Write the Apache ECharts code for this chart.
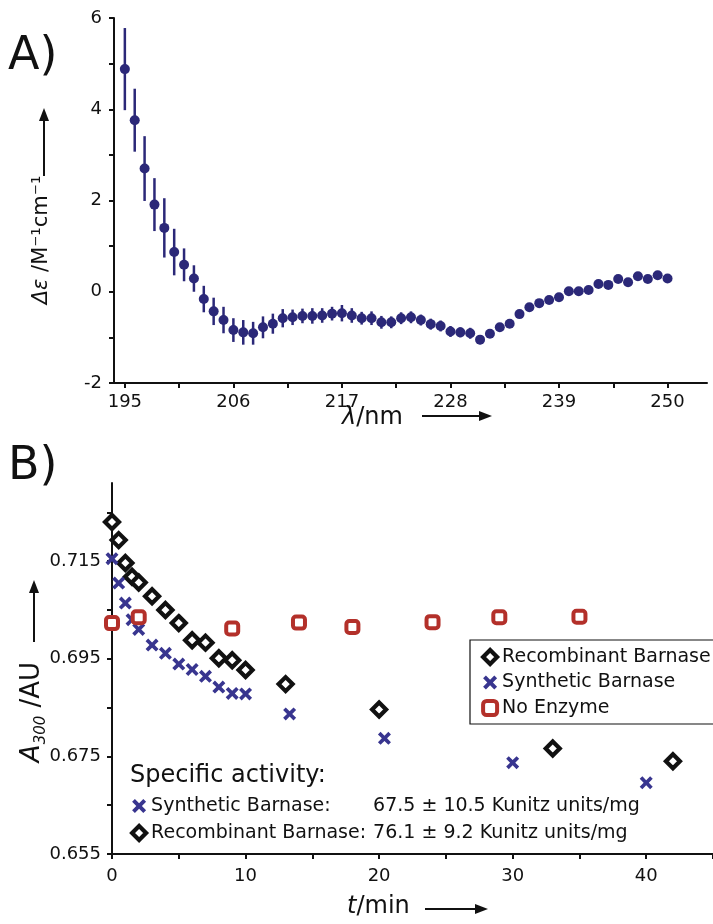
<!DOCTYPE html>
<html><head><meta charset="utf-8">
<script src="https://cdn.jsdelivr.net/npm/echarts@6/dist/echarts.min.js"></script>
<style>html,body{margin:0;padding:0;background:#fff}#c{width:713px;height:924px}</style>
</head><body><div id="c"></div>
<script>
// ---- Panel A data (CD spectrum) ----
const cdWavelength = [195,196,197,198,199,200,201,202,203,204,205,206,207,208,209,210,211,212,213,214,215,216,217,218,219,220,221,222,223,224,225,226,227,228,229,230,231,232,233,234,235,236,237,238,239,240,241,242,243,244,245,246,247,248,249,250];
const cdDeltaEps = [4.88,3.76,2.70,1.91,1.40,0.87,0.59,0.29,-0.16,-0.43,-0.62,-0.84,-0.89,-0.91,-0.78,-0.70,-0.58,-0.56,-0.53,-0.53,-0.52,-0.48,-0.47,-0.52,-0.58,-0.58,-0.67,-0.67,-0.58,-0.56,-0.62,-0.71,-0.75,-0.87,-0.89,-0.91,-1.05,-0.92,-0.78,-0.70,-0.49,-0.34,-0.25,-0.18,-0.12,0.01,0.01,0.04,0.17,0.15,0.28,0.21,0.34,0.28,0.36,0.29];
const cdError = [0.90,0.69,0.71,0.58,0.65,0.51,0.36,0.29,0.29,0.30,0.29,0.26,0.27,0.25,0.24,0.22,0.20,0.17,0.16,0.17,0.16,0.15,0.18,0.16,0.14,0.15,0.14,0.13,0.13,0.13,0.12,0.12,0.12,0.12,0.11,0.12,0.10,0.08,0.07,0.07,0.06,0.05,0.05,0.05,0.05,0.05,0.05,0.05,0.05,0.05,0.05,0.05,0.05,0.05,0.05,0.05];
const cdXTicks = [195,206,217,228,239,250];
const cdXMinor = [200.5,211.5,222.5,233.5,244.5];
const cdYTicks = [-2,0,2,4,6];
const cdYMinor = [-1,1,3,5];

// ---- Panel B data (kinetics) ----
const recombTime = [0,0.5,1,1.5,2,3,4,5,6,7,8,9,10,13,20,33,42];
const recombA300 = [0.7230,0.7193,0.7146,0.7118,0.7106,0.7078,0.7050,0.7023,0.6988,0.6983,0.6951,0.6947,0.6927,0.6898,0.6846,0.6766,0.6740];
const synthTime = [0,0.5,1,1.5,2,3,4,5,6,7,8,9,10,13.3,20.4,30,40];
const synthA300 = [0.7155,0.7105,0.7064,0.7030,0.7010,0.6978,0.6961,0.6939,0.6928,0.6914,0.6892,0.6879,0.6878,0.6837,0.6787,0.6737,0.6696];
const noEnzTime = [0,2,9,14,18,24,29,35];
const noEnzA300 = [0.7023,0.7035,0.7012,0.7024,0.7015,0.7025,0.7035,0.7036];
const kinXTicks = [0,10,20,30,40];
const kinXMinor = [5,15,25,35,45];
const kinYTicks = [0.655,0.675,0.695,0.715];
const kinYMinor = [0.665,0.685,0.705,0.725];
const seriesNames = ['Recombinant Barnase','Synthetic Barnase','No Enzyme'];
const activityNames = ['Synthetic Barnase','Recombinant Barnase'];
const activityValues = ['67.5 ± 10.5 Kunitz units/mg','76.1 ± 9.2 Kunitz units/mg'];

const FONT = 'DejaVu Sans';
const INK = '#111';
const NAVY = '#2b2878';
const BLUE = '#38358f';
const RED = '#b3302a';
const XPATH = 'path://M2,0 L5,3 L8,0 L10,2 L7,5 L10,8 L8,10 L5,7 L2,10 L0,8 L3,5 L0,2 Z';

const zip = (a, b) => a.map((v, i) => [v, b[i]]);
const cdData = cdWavelength.map((w, i) => [w, cdDeltaEps[i], cdError[i]]);

function axis(extra) {
  const base = {
    type: 'value',
    axisLine: {show: true, onZero: false, lineStyle: {color: INK, width: 2}},
    axisTick: {show: true, length: 5, lineStyle: {color: INK, width: 2}},
    splitLine: {show: false},
    axisLabel: {color: INK, fontFamily: FONT, fontSize: 18}
  };
  return echarts.util.merge(base, extra, true);
}

const chart = echarts.init(document.getElementById('c'));
const symStyles = {
  'Recombinant Barnase': {symbol: 'diamond', size: 14, itemStyle: {color: '#fff', borderColor: INK, borderWidth: 4.2, opacity: 1}},
  'Synthetic Barnase': {symbol: XPATH, size: 13, itemStyle: {color: BLUE, opacity: 1}},
  'No Enzyme': {symbol: 'roundRect', size: 12, itemStyle: {color: '#fff', borderColor: RED, borderWidth: 4, opacity: 1}}
};
const legendItem = n => ({name: n, icon: symStyles[n].symbol, itemStyle: symStyles[n].itemStyle});

function arrow(x1, y1, x2, y2) {
  const dx = x2 - x1, dy = y2 - y1, L = Math.hypot(dx, dy);
  const ux = dx / L, uy = dy / L, hl = 13, hw = 5;
  const bx = x2 - ux * hl, by = y2 - uy * hl;
  return [
    {type: 'line', shape: {x1: x1, y1: y1, x2: bx, y2: by}, style: {stroke: INK, lineWidth: 2}},
    {type: 'polygon', shape: {points: [[x2, y2], [bx - uy * hw, by + ux * hw], [bx + uy * hw, by - ux * hw]]}, style: {fill: INK}}
  ];
}

chart.setOption({
  animation: false,
  backgroundColor: '#fff',
  grid: [
    {left: 114, right: 6, top: 18, height: 365, outerBoundsMode: 'none', containLabel: false},
    {left: 112, right: 0, top: 483, height: 371, outerBoundsMode: 'none', containLabel: false}
  ],
  xAxis: [
    axis({gridIndex: 0, min: 193.9, max: 254,
      axisTick: {customValues: cdXTicks.concat(cdXMinor)},
      axisLabel: {customValues: cdXTicks, margin: 10}}),
    axis({gridIndex: 1, min: 0, max: 45,
      axisTick: {customValues: kinXTicks.concat(kinXMinor)},
      axisLabel: {customValues: kinXTicks, margin: 13}})
  ],
  yAxis: [
    axis({gridIndex: 0, min: -2, max: 6,
      axisTick: {customValues: cdYTicks.concat(cdYMinor)},
      axisLabel: {customValues: cdYTicks, margin: 12}}),
    axis({gridIndex: 1, min: 0.655, max: 0.731,
      axisTick: {customValues: kinYTicks.concat(kinYMinor)},
      axisLabel: {customValues: kinYTicks, margin: 11, formatter: v => v.toFixed(3)}})
  ],
  legend: [
    {
      left: 470, top: 640, orient: 'vertical', selectedMode: false,
      borderColor: INK, borderWidth: 1.2, padding: [7, 10, 6, 11],
      itemWidth: 14, itemHeight: 14, itemGap: 5.5,
      textStyle: {color: INK, fontFamily: FONT, fontSize: 19, lineHeight: 20},
      data: seriesNames.map(legendItem)
    },
    {
      left: 130, top: 796, orient: 'vertical', selectedMode: false,
      padding: 0, itemWidth: 14, itemHeight: 14, itemGap: 7,
      textStyle: {color: INK, fontFamily: FONT, fontSize: 19, lineHeight: 20,
        rich: {n: {width: 222, fontFamily: FONT, fontSize: 19, color: INK}, v: {fontFamily: FONT, fontSize: 19, color: INK}}},
      formatter: name => '{n|' + name + ':}{v|' + activityValues[activityNames.indexOf(name)] + '}',
      data: activityNames.map(legendItem)
    }
  ],
  series: [
    {
      type: 'custom', xAxisIndex: 0, yAxisIndex: 0, data: cdData,
      encode: {x: 0, y: 1}, silent: true,
      renderItem: function (params, api) {
        const x = api.value(0), y = api.value(1), e = api.value(2);
        const p1 = api.coord([x, y - e]), p2 = api.coord([x, y + e]);
        return {type: 'line', shape: {x1: p1[0], y1: p1[1], x2: p2[0], y2: p2[1]}, style: {stroke: NAVY, lineWidth: 2.5}};
      }
    },
    {
      type: 'scatter', xAxisIndex: 0, yAxisIndex: 0, data: zip(cdWavelength, cdDeltaEps),
      symbol: 'circle', symbolSize: 10, itemStyle: {color: NAVY, opacity: 1}
    },
    {
      name: 'Recombinant Barnase', type: 'scatter', xAxisIndex: 1, yAxisIndex: 1,
      data: zip(recombTime, recombA300), symbol: symStyles['Recombinant Barnase'].symbol,
      symbolSize: symStyles['Recombinant Barnase'].size, itemStyle: symStyles['Recombinant Barnase'].itemStyle
    },
    {
      name: 'Synthetic Barnase', type: 'scatter', xAxisIndex: 1, yAxisIndex: 1,
      data: zip(synthTime, synthA300), symbol: symStyles['Synthetic Barnase'].symbol,
      symbolSize: symStyles['Synthetic Barnase'].size, itemStyle: symStyles['Synthetic Barnase'].itemStyle
    },
    {
      name: 'No Enzyme', type: 'scatter', xAxisIndex: 1, yAxisIndex: 1,
      data: zip(noEnzTime, noEnzA300), symbol: symStyles['No Enzyme'].symbol,
      symbolSize: symStyles['No Enzyme'].size, itemStyle: symStyles['No Enzyme'].itemStyle
    }
  ],
  graphic: [
    {type: 'text', left: 8, top: 34, style: {text: 'A)', font: '46px "DejaVu Sans"', fill: INK}},
    {type: 'text', left: 8, top: 444, style: {text: 'B)', font: '46px "DejaVu Sans"', fill: INK}},
    // Panel A y title
    {type: 'text', x: 42, y: 240, rotation: Math.PI / 2,
      style: {text: '{i|Δε} /M⁻¹cm⁻¹', font: '21px "DejaVu Sans"', fill: INK, align: 'center', verticalAlign: 'middle',
        rich: {i: {fontStyle: 'italic', fontFamily: FONT, fontSize: 21}}}},
    ...arrow(44, 176, 44, 108),
    // Panel A x title
    {type: 'text', x: 342, y: 418, style: {text: '{i|λ}/nm', font: '24px "DejaVu Sans"', fill: INK, verticalAlign: 'middle',
      rich: {i: {fontStyle: 'italic', fontFamily: FONT, fontSize: 24}}}},
    ...arrow(422, 416, 492, 416),
    // Panel B y title
    {type: 'text', x: 32, y: 712, rotation: Math.PI / 2,
      style: {text: '{a|A}{s|300} /AU', font: '26px "DejaVu Sans"', fill: INK, align: 'center', verticalAlign: 'middle',
        rich: {a: {fontStyle: 'italic', fontFamily: FONT, fontSize: 26, verticalAlign: 'bottom'},
               s: {fontStyle: 'italic', fontFamily: FONT, fontSize: 15, verticalAlign: 'bottom', padding: [0, 0, -4, 0]}}}},
    ...arrow(34, 642, 34, 580),
    // Panel B x title
    {type: 'text', x: 347, y: 907, style: {text: '{i|t}/min', font: '24px "DejaVu Sans"', fill: INK, verticalAlign: 'middle',
      rich: {i: {fontStyle: 'italic', fontFamily: FONT, fontSize: 24}}}},
    ...arrow(425, 909, 488, 909),
    // annotation header
    {type: 'text', x: 130, y: 776, style: {text: 'Specific activity:', font: '24px "DejaVu Sans"', fill: INK, verticalAlign: 'middle'}}
  ]
});
</script>
</body></html>
